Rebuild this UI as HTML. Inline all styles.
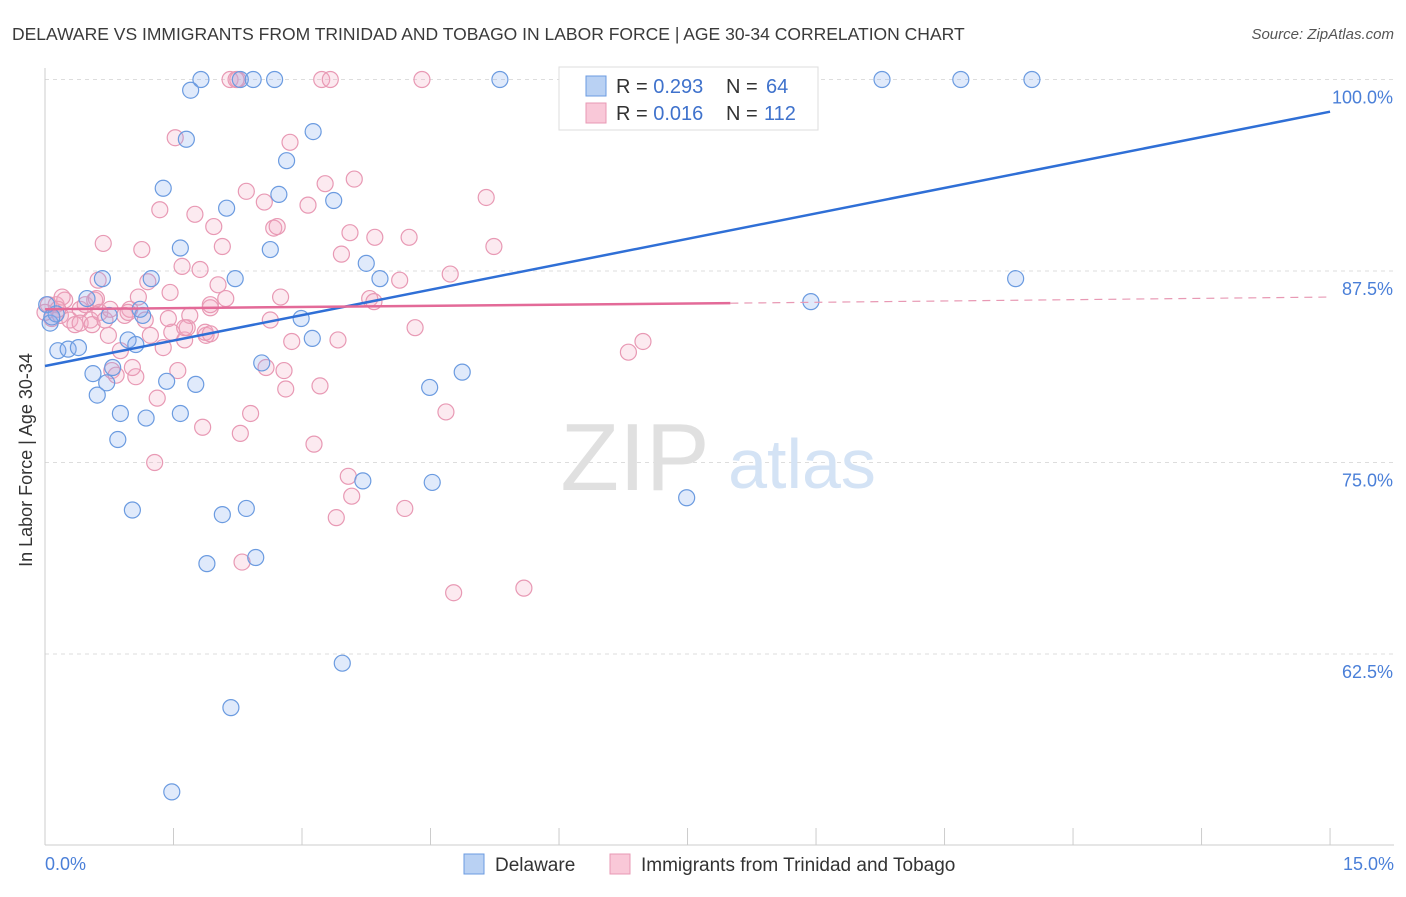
<!DOCTYPE html>
<html><head><meta charset="utf-8"><style>
body{margin:0;background:#fff;font-family:"Liberation Sans",sans-serif;}
svg text{font-family:"Liberation Sans",sans-serif;}
</style></head><body>
<svg id="chart" width="1406" height="892">
<text x="12" y="40" font-size="17.5" fill="#3a3a3a">DELAWARE VS IMMIGRANTS FROM TRINIDAD AND TOBAGO IN LABOR FORCE | AGE 30-34 CORRELATION CHART</text>
<text x="1394" y="39" font-size="15" fill="#555" text-anchor="end" font-style="italic">Source: ZipAtlas.com</text>
<g id="grid"></g>
<g><text x="635" y="490" font-size="96" fill="#e0e0e0" font-family="Liberation Serif" text-anchor="middle">ZIP</text><text x="802" y="488" font-size="70" fill="#d4e3f5" text-anchor="middle">atlas</text></g>
<g id="axes"></g>
<g id="pts"></g>
<g id="trends"></g>
<text x="32" y="460" font-size="18" fill="#333" text-anchor="middle" transform="rotate(-90 32 460)">In Labor Force | Age 30-34</text>
<text x="45" y="870" font-size="18" fill="#4a7fd8">0.0%</text>
<text x="1394" y="870" font-size="18" fill="#4a7fd8" text-anchor="end">15.0%</text>
<g>
<rect x="559" y="67" width="259" height="63" fill="#fff" stroke="#ddd"/>
<rect x="586" y="76" width="20" height="20" fill="#b9d1f3" stroke="#6b9be0"/>
<text x="616" y="93" font-size="20" fill="#333">R = <tspan fill="#3f72cc">0.293</tspan></text>
<text x="726" y="93" font-size="20" fill="#333">N = </text><text x="766" y="93" font-size="20" fill="#3f72cc">64</text>
<rect x="586" y="103" width="20" height="20" fill="#f9c8d8" stroke="#e899b4"/>
<text x="616" y="120" font-size="20" fill="#333">R = <tspan fill="#3f72cc">0.016</tspan></text>
<text x="726" y="120" font-size="20" fill="#333">N = </text><text x="764" y="120" font-size="20" fill="#3f72cc">112</text>
</g>
<g>
<rect x="464" y="854" width="20" height="20" fill="#b9d1f3" stroke="#6b9be0"/>
<text x="495" y="871" font-size="19" fill="#333">Delaware</text>
<rect x="610" y="854" width="20" height="20" fill="#f9c8d8" stroke="#e899b4"/>
<text x="641" y="871" font-size="19" fill="#333">Immigrants from Trinidad and Tobago</text>
</g>
</svg>
<script>
const yTicks=[100,87.5,75,62.5];
const yTickLabels=["100.0%","87.5%","75.0%","62.5%"];
const xTicks=[0,1.5,3,4.5,6,7.5,9,10.5,12,13.5,15];
const blueX=[0.06,0.15,0.27,0.39,0.56,0.61,0.72,0.79,0.88,0.85,0.97,1.02,1.06,1.14,1.18,1.24,1.38,1.42,1.58,1.58,1.65,1.70,1.76,1.82,1.89,2.07,2.12,2.17,2.22,2.28,2.35,2.43,2.46,2.53,2.63,2.68,2.73,2.82,2.99,3.12,3.13,3.37,3.47,3.71,3.75,3.91,4.49,4.52,4.87,5.31,1.48,7.49,8.94,9.77,10.69,11.33,11.52,0.13,0.02,0.49,0.67,0.75,1.11,0.08];
const blueY=[84.1,82.3,82.4,82.5,80.8,79.4,80.2,81.2,78.2,76.5,83.0,71.9,82.7,84.6,77.9,87.0,92.9,80.3,89.0,78.2,96.1,99.3,80.1,100,68.4,71.6,91.6,59.0,87.0,100,72.0,100,68.8,81.5,88.9,100,92.5,94.7,84.4,83.1,96.6,92.1,61.9,73.8,88.0,87.0,79.9,73.7,80.9,100,53.5,72.7,85.5,100,100,87.0,100,84.7,85.3,85.7,87.0,84.6,85.0,84.5];
const pinkX=[0.04,0.08,0.13,0.18,0.23,0.29,0.35,0.41,0.47,0.53,0.58,0.62,0.68,0.74,0.78,0.83,0.88,0.93,0.99,1.06,1.09,1.13,1.20,1.23,1.28,1.31,1.34,1.38,1.46,1.48,1.52,1.55,1.60,1.63,1.66,1.69,1.75,1.81,1.84,1.88,1.93,1.97,2.02,2.07,2.11,2.16,2.25,2.28,2.30,2.35,2.40,2.56,2.58,2.63,2.67,2.71,2.75,2.79,2.81,2.86,2.88,3.07,3.14,3.21,3.23,3.27,3.33,3.40,3.42,3.46,3.54,3.56,3.58,3.61,3.79,3.84,3.85,4.14,4.20,4.25,4.32,4.40,4.68,4.73,4.77,5.15,5.24,5.59,6.14,6.81,6.98,0.20,0.15,0.0,0.41,0.55,0.60,0.97,0.64,0.70,0.76,1.02,1.17,1.44,1.63,1.87,1.93,2.23,1.93];
const pinkY=[85.3,84.4,85.3,84.6,85.6,84.3,84.0,85.0,85.3,84.3,85.6,86.9,89.3,83.3,81.0,80.7,82.3,84.6,85.0,80.6,85.8,88.9,86.8,83.3,75.0,79.2,91.5,82.5,86.1,83.5,96.2,81.0,87.8,83.0,83.8,84.6,91.2,87.6,77.3,83.3,85.1,90.4,86.6,89.1,85.7,100,100,76.9,68.5,92.7,78.2,92.0,81.2,84.3,90.3,90.4,85.8,81.0,79.8,95.9,82.9,91.8,76.2,80.0,100,93.2,100,71.4,83.0,88.6,74.1,90.0,72.8,93.5,85.7,85.5,89.7,86.9,72.0,89.7,83.8,100,78.3,87.3,66.5,92.3,89.1,66.8,100,82.2,82.9,85.8,85.0,84.8,84.1,84.0,85.7,84.8,84.8,84.3,85.0,81.2,84.3,84.4,83.8,83.5,85.3,100,83.4];
const blueTrend=[[0,81.3],[15,97.9]];
const pinkTrend=[[0,85.0],[8,85.4],[15,85.8]];
const NS="http://www.w3.org/2000/svg";
const X=v=>45+v*85.67, Y=v=>79.5+(100-v)*15.32;
function mk(t,a,p){const e=document.createElementNS(NS,t);for(const k in a)e.setAttribute(k,a[k]);p.appendChild(e);return e;}
const grid=document.getElementById('grid'),axes=document.getElementById('axes');
yTicks.forEach((v,i)=>{const l=mk('line',{x1:45,x2:1394,y1:Y(v),y2:Y(v),stroke:'#ddd','stroke-dasharray':'4,4'},grid);


const t=mk('text',{x:1393,y:Y(v)+24,'font-size':18,fill:'#4a7fd8','text-anchor':'end'},axes);t.textContent=yTickLabels[i];

});
mk('line',{x1:45,x2:45,y1:68,y2:845,stroke:'#ccc'},axes);
mk('line',{x1:45,x2:1394,y1:845,y2:845,stroke:'#ccc'},axes);
xTicks.forEach(v=>{const l=mk('line',{x1:X(v),x2:X(v),y1:828,y2:845,stroke:'#ccc'},axes);

});
const pts=document.getElementById('pts');
pinkX.forEach((x,i)=>{const c=mk('circle',{cx:X(x),cy:Y(pinkY[i]),r:8,fill:'rgba(244,170,196,0.25)',stroke:'#e899b4','stroke-width':1.2},pts);

});
blueX.forEach((x,i)=>{const c=mk('circle',{cx:X(x),cy:Y(blueY[i]),r:8,fill:'rgba(130,172,238,0.25)',stroke:'#6b9be0','stroke-width':1.2},pts);

});
const tr=document.getElementById('trends');
const b=mk('line',{x1:X(blueTrend[0][0]),y1:Y(blueTrend[0][1]),x2:X(blueTrend[1][0]),y2:Y(blueTrend[1][1]),stroke:'#2f6fd6','stroke-width':2.5},tr);


const p1=mk('line',{x1:X(pinkTrend[0][0]),y1:Y(pinkTrend[0][1]),x2:X(pinkTrend[1][0]),y2:Y(pinkTrend[1][1]),stroke:'#e36a98','stroke-width':2.5},tr);


const p2=mk('line',{x1:X(pinkTrend[1][0]),y1:Y(pinkTrend[1][1]),x2:X(pinkTrend[2][0]),y2:Y(pinkTrend[2][1]),stroke:'#e899b4','stroke-width':1.2,'stroke-dasharray':'8,6'},tr);


</script>
</body></html>
